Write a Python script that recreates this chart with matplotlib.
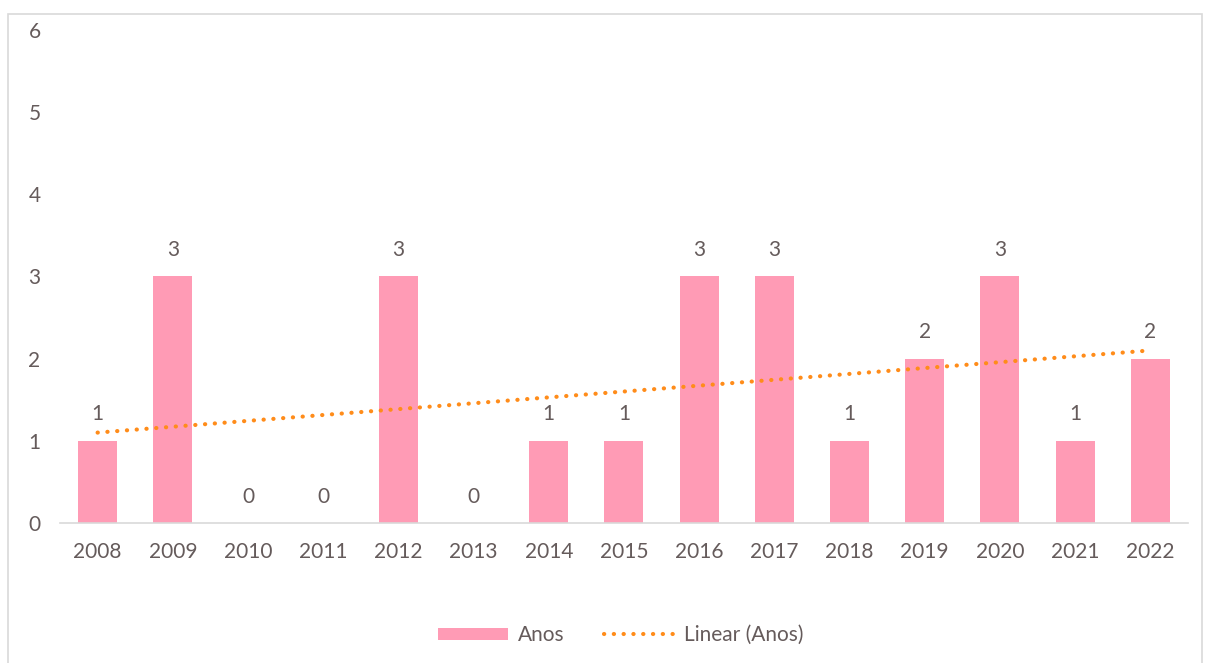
import matplotlib.pyplot as plt
import numpy as np
from matplotlib.patches import Rectangle

anos = ['2008', '2009', '2010', '2011', '2012', '2013', '2014', '2015',
        '2016', '2017', '2018', '2019', '2020', '2021', '2022']
valores = [1, 3, 0, 0, 3, 0, 1, 1, 3, 3, 1, 2, 3, 1, 2]

cor_barra = '#FF9BB5'
cor_linha = '#FF8C1A'
cor_texto = '#655B5B'

plt.rcParams['font.family'] = ['Lato', 'DejaVu Sans']

fig = plt.figure(figsize=(12.05, 6.63), dpi=100)
ax = fig.add_axes([0.0498, 0.2112, 0.936, 0.7436])

x = np.arange(len(anos))
barras = ax.bar(x, valores, width=0.52, color=cor_barra, label='Anos', zorder=2)

# tendencia linear (minimos quadrados)
coef = np.polyfit(x, valores, 1)
linha, = ax.plot(x, np.polyval(coef, x), linestyle=(0, (0.05, 2.3)),
                 color=cor_linha, linewidth=3, dash_capstyle='round',
                 label='Linear (Anos)', zorder=3)

for xi, v in zip(x, valores):
    ax.text(xi, v + 0.2, str(v), ha='center', va='bottom',
            fontsize=15, color=cor_texto)

ax.set_xlim(-0.5, len(anos) - 0.5)
ax.set_ylim(0, 6)
ax.set_xticks(x)
ax.set_xticklabels(anos)
ax.set_yticks(range(7))
ax.tick_params(axis='both', length=0, labelsize=15, colors=cor_texto)
ax.tick_params(axis='x', pad=14)
ax.tick_params(axis='y', pad=14)
for lado in ['top', 'right', 'left']:
    ax.spines[lado].set_visible(False)
ax.spines['bottom'].set_color('#D9D9D9')
ax.spines['bottom'].set_linewidth(1.2)

fig.legend([barras, linha], ['Anos', 'Linear (Anos)'], loc='center',
           bbox_to_anchor=(0.515, 0.042), ncol=2, frameon=False,
           fontsize=15, labelcolor=cor_texto, handlelength=3.4,
           handleheight=0.5, handletextpad=0.45, columnspacing=1.9)

fig.patches.append(Rectangle((8 / 1205, -0.01), 1194 / 1205, 1 - 14 / 663 + 0.01,
                             transform=fig.transFigure, fill=False,
                             edgecolor='#D9D9D9', linewidth=1.2))

fig.savefig('out.png', dpi=100)
